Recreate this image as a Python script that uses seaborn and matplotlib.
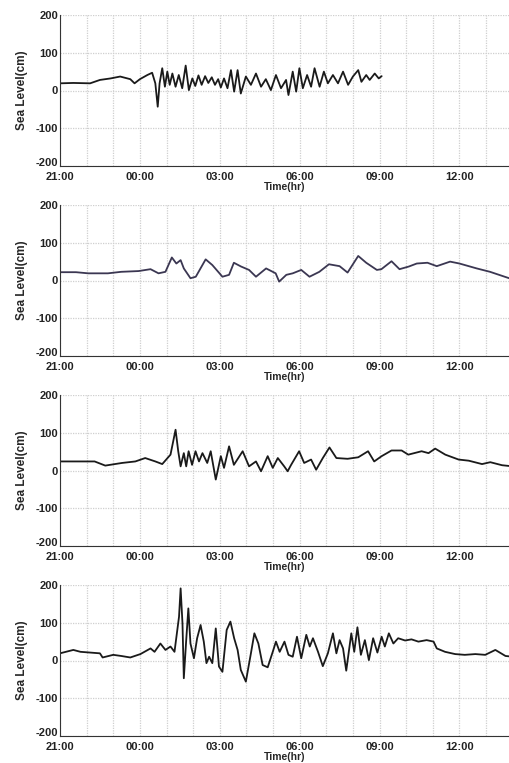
import matplotlib
matplotlib.use("Agg")
import matplotlib.pyplot as plt
import seaborn as sns
import pandas as pd
from matplotlib.ticker import FixedLocator, MultipleLocator
from matplotlib.transforms import ScaledTranslation

# ---- data (hours after 21:00, sea level in cm) ----
t1 = [0, 0.5, 1.13, 1.5, 1.9, 2.26, 2.64, 2.8, 3.0, 3.28, 3.46, 3.58, 3.67, 3.74, 3.84,
      3.94, 4.03, 4.12, 4.22, 4.34, 4.46, 4.59, 4.72, 4.84, 4.97, 5.08, 5.2, 5.32, 5.45,
      5.57, 5.7, 5.82, 5.94, 6.04, 6.16, 6.29, 6.42, 6.54, 6.67, 6.79, 6.98, 7.17, 7.36,
      7.55, 7.73, 7.92, 8.11, 8.3, 8.49, 8.58, 8.74, 8.87, 8.99, 9.12, 9.28, 9.43, 9.56,
      9.75, 9.91, 10.06, 10.25, 10.44, 10.63, 10.82, 11.0, 11.2, 11.32, 11.5, 11.63,
      11.82, 11.97, 12.08]
v1 = [19, 20, 19, 28, 32, 37, 30, 19, 30, 41, 47, 19, -43, 19, 59,
      10, 50, 15, 45, 10, 41, 6, 66, 1, 32, 12, 40, 15, 38,
      20, 35, 15, 30, 8, 32, 6, 54, -3, 54, -8, 37, 15, 45,
      10, 30, 1, 41, 6, 28, -12, 50, -3, 59, 6, 41, 10, 59,
      10, 50, 19, 41, 19, 50, 15, 37, 54, 23, 41, 28,
      45, 32, 38]

t2 = [0, 0.6, 1.06, 1.8, 2.3, 2.95, 3.4, 3.7, 3.96, 4.2, 4.37, 4.53, 4.65, 4.9, 5.1,
      5.47, 5.72, 6.1, 6.35, 6.53, 6.8, 7.1, 7.36, 7.74, 8.1, 8.23, 8.5, 8.74, 9.06,
      9.37, 9.74, 10.1, 10.5, 10.8, 11.2, 11.5, 11.9, 12.07, 12.45, 12.75, 13.1, 13.4,
      13.8, 14.15, 14.65, 15.0, 15.65, 16.15, 16.7, 17.0]
v2 = [22, 22, 19, 19, 23, 25, 30, 19, 23, 61, 45, 54, 32, 6, 10,
      56, 41, 10, 15, 47, 37, 28, 10, 32, 19, -3, 15, 19, 28,
      10, 23, 43, 38, 21, 65, 47, 28, 30, 51, 30, 37, 45,
      47, 38, 50, 45, 32, 23, 10, 3]

t3 = [0, 1.3, 1.7, 2.33, 2.83, 3.2, 3.58, 3.84, 4.15, 4.34, 4.44, 4.53, 4.65, 4.74, 4.83,
      4.96, 5.09, 5.22, 5.35, 5.53, 5.66, 5.85, 6.04, 6.16, 6.35, 6.53, 6.86, 7.1, 7.36,
      7.55, 7.8, 7.99, 8.18, 8.42, 8.55, 8.68, 8.98, 9.17, 9.43, 9.62, 9.87, 10.12, 10.38,
      10.8, 11.2, 11.57, 11.8, 12.08, 12.45, 12.83, 13.08, 13.58, 13.84, 14.09, 14.47,
      14.97, 15.35, 15.85, 16.16, 16.6, 17.0]
v3 = [24, 24, 13, 20, 24, 33, 24, 17, 42, 108, 51, 11, 46, 11, 51,
      15, 51, 24, 46, 20, 51, -24, 38, 7, 64, 15, 51, 11, 24,
      -2, 38, 7, 33, 11, -2, 15, 51, 20, 29, 2, 33, 61, 33,
      31, 35, 51, 24, 38, 53, 53, 42, 51, 46, 58, 42,
      29, 26, 17, 22, 14, 11]

t4 = [0, 0.5, 0.77, 1.5, 1.6, 2.0, 2.3, 2.64, 3.02, 3.4, 3.55, 3.77, 3.96, 4.15, 4.3,
      4.47, 4.53, 4.6, 4.65, 4.74, 4.82, 4.9, 5.03, 5.15, 5.28, 5.4, 5.5, 5.6, 5.72,
      5.85, 5.97, 6.1, 6.26, 6.4, 6.54, 6.67, 6.79, 6.98, 7.17, 7.3, 7.45, 7.61, 7.8,
      7.99, 8.11, 8.25, 8.43, 8.58, 8.74, 8.9, 9.06, 9.25, 9.38, 9.5, 9.69, 9.87, 10.06,
      10.25, 10.38, 10.5, 10.63, 10.75, 10.94, 11.05, 11.17, 11.3, 11.45, 11.6, 11.76,
      11.92, 12.08, 12.2, 12.35, 12.52, 12.7, 12.96, 13.2, 13.46, 13.77, 14.03, 14.15,
      14.46, 14.84, 15.2, 15.6, 15.97, 16.35, 16.73, 17.0]
v4 = [19, 28, 23, 19, 8, 15, 12, 8, 17, 32, 23, 45, 28, 37, 23,
      116, 191, 98, -47, 54, 138, 45, 6, 59, 94, 50, -7, 10, -7,
      85, -16, -30, 81, 103, 59, 28, -25, -56, 19, 72, 45, -12, -18,
      23, 50, 23, 50, 15, 10, 63, 6, 68, 37, 59, 23, -15, 19,
      72, 19, 54, 32, -27, 72, 23, 88, 15, 54, 1, 59,
      21, 63, 37, 72, 45, 59, 53, 56, 50, 54, 50, 32,
      23, 17, 15, 17, 15, 28, 12, 10]

tick_hours = [0, 3, 6, 9, 12, 15]
tick_labels = ["21:00", "00:00", "03:00", "06:00", "09:00", "12:00"]
y_ticks = [-200, -100, 0, 100, 200]
x_label = "Time(hr)"
y_label = "Sea Level(cm)"

series = [(t1, v1, "#1a1a1a"), (t2, v2, "#3b3752"), (t3, v3, "#1a1a1a"), (t4, v4, "#1a1a1a")]

sns.set_style("white")
plt.rcParams["font.family"] = ["Liberation Sans", "DejaVu Sans"]
plt.rcParams["font.weight"] = "bold"

fig = plt.figure(figsize=(5.10, 7.63), dpi=100)
W, H = 510.0, 763.0
tops = [15, 205, 395, 585]
ax_h = 151
left, right = 60, 510

for (t, v, col), top in zip(series, tops):
    ax = fig.add_axes([left / W, 1 - (top + ax_h) / H, (right - left) / W, ax_h / H])
    df = pd.DataFrame({"hour": t, "level": v})
    sns.lineplot(data=df, x="hour", y="level", ax=ax, color=col, lw=1.3,
                 estimator=None, sort=False)
    ax.set_xlim(0, 16.9)
    ax.set_ylim(-200, 200)
    ax.xaxis.set_major_locator(FixedLocator(tick_hours))
    ax.set_xticklabels(tick_labels)
    ax.xaxis.set_minor_locator(MultipleLocator(1))
    ax.set_yticks(y_ticks)
    ax.set_yticklabels([str(y) for y in y_ticks])
    ax.grid(True, which="both", axis="x", color="#cfcfcf", ls=(0, (1, 1)), lw=0.9)
    ax.grid(True, which="major", axis="y", color="#cfcfcf", ls=(0, (1, 1)), lw=0.9)
    ax.set_axisbelow(True)
    for s in ["top", "right"]:
        ax.spines[s].set_visible(False)
    for s in ["left", "bottom"]:
        ax.spines[s].set_color("#333333")
        ax.spines[s].set_linewidth(0.8)
    ax.tick_params(axis="both", which="both", direction="in", length=3, width=0.7,
                   labelsize=8, pad=1.5, colors="#222222")
    ax.tick_params(axis="x", which="minor", length=3)
    ax.tick_params(axis="x", which="major", pad=4)
    ax.set_xlabel(x_label, fontsize=7.5, fontweight="bold", labelpad=0.5)
    ax.set_ylabel(y_label, fontsize=8.5, fontweight="bold", labelpad=5)
    for lab in ax.get_xticklabels() + ax.get_yticklabels():
        lab.set_fontweight("bold")
    # lift the bottom y label a little, as in the reference
    ylabs = ax.get_yticklabels()
    ylabs[0].set_transform(ylabs[0].get_transform() +
                           ScaledTranslation(0, 3 / 72, fig.dpi_scale_trans))

fig.savefig("out.png", dpi=100)
